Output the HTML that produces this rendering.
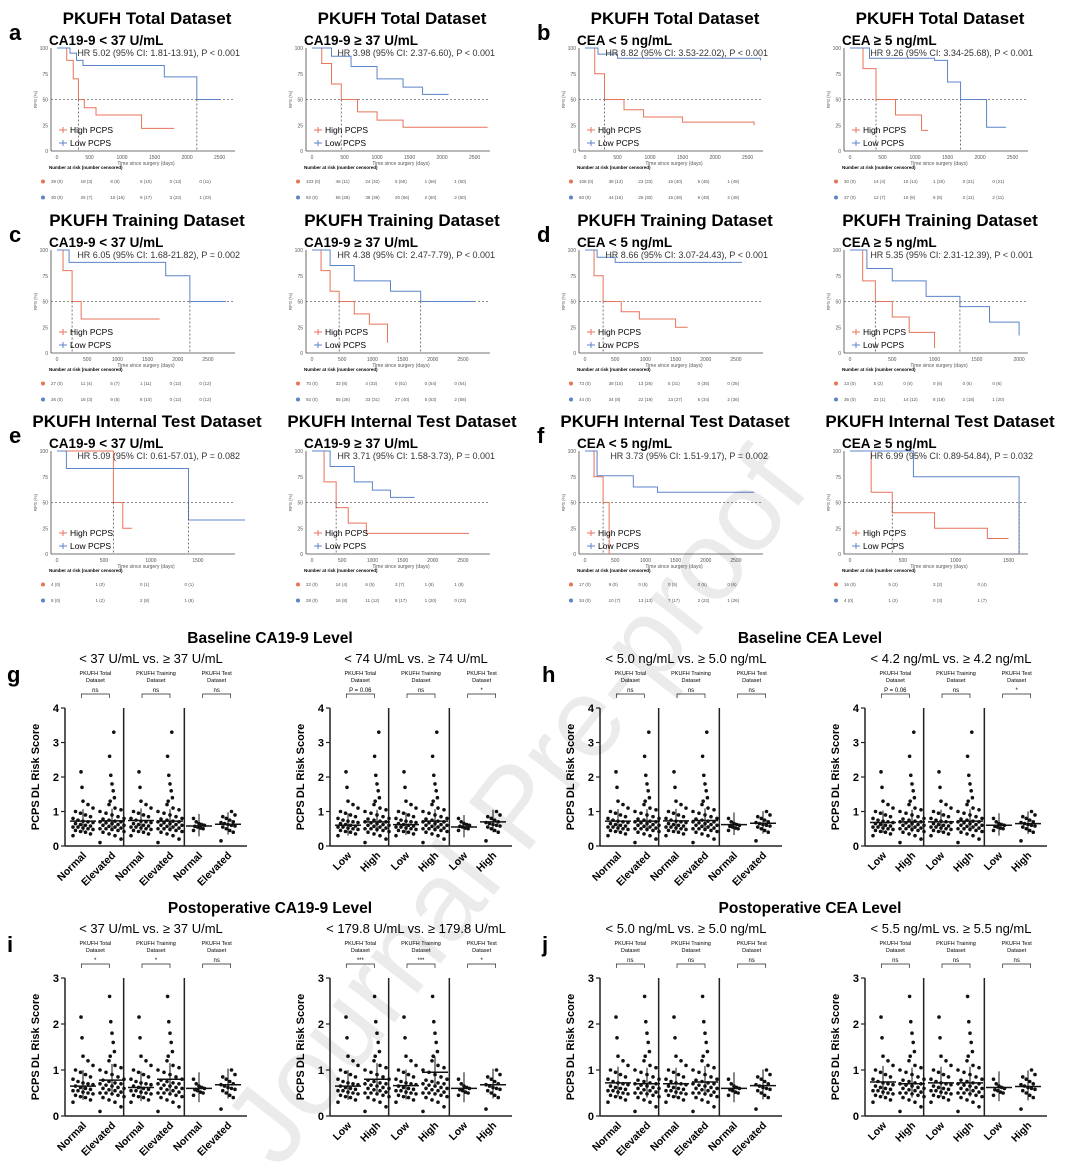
<!DOCTYPE html>
<html><head><meta charset="utf-8">
<style>
html,body{margin:0;background:#fff;overflow:hidden;width:1080px;height:1169px;}
svg{display:block;font-family:"Liberation Sans",sans-serif;}
</style></head>
<body>
<svg id="fig" width="1080" height="1169" viewBox="0 0 1080 1169" xmlns="http://www.w3.org/2000/svg" overflow="hidden"></svg>
<script>
// ---------- KM data: [time(days), survival %] ----------
const km_a1_high=[[0,100],[150,88],[250,70],[330,50],[420,42],[600,35],[1300,22],[1800,22]];
const km_a1_low=[[0,100],[200,95],[300,88],[400,83],[1650,72],[2150,50],[2500,50]];
const km_a2_high=[[0,100],[150,85],[300,65],[450,50],[700,38],[1000,30],[1400,23],[2700,23]];
const km_a2_low=[[0,100],[300,92],[600,82],[1000,70],[1400,62],[1700,55],[2100,55]];
const km_b1_high=[[0,100],[150,75],[300,50],[600,40],[900,33],[1500,28],[2600,25]];
const km_b1_low=[[0,100],[200,94],[500,90],[2700,88]];
const km_b2_high=[[0,100],[200,80],[400,50],[700,35],[1100,20],[1200,20]];
const km_b2_low=[[0,100],[300,90],[1300,88],[1500,67],[1700,50],[2100,23],[2400,23]];
const km_c1_high=[[0,100],[100,80],[250,50],[400,33],[1700,33]];
const km_c1_low=[[0,100],[200,88],[1800,75],[2200,50],[2800,50]];
const km_c2_high=[[0,100],[150,80],[300,60],[450,50],[700,38],[950,28],[1250,10]];
const km_c2_low=[[0,100],[300,85],[700,70],[1300,60],[1800,50],[2700,50]];
const km_d1_high=[[0,100],[150,75],[300,50],[600,40],[900,33],[1500,25],[1700,25]];
const km_d1_low=[[0,100],[200,93],[500,88],[2600,88]];
const km_d2_high=[[0,100],[150,70],[300,50],[500,35],[700,20],[1000,5]];
const km_d2_low=[[0,100],[200,82],[500,70],[900,55],[1300,45],[1650,30],[2000,17]];
const km_e1_high=[[0,100],[600,50],[700,25],[800,25]];
const km_e1_low=[[0,100],[100,83],[1400,33],[2000,33]];
const km_e2_high=[[0,100],[200,70],[400,45],[600,30],[900,20],[2600,20]];
const km_e2_low=[[0,100],[300,85],[700,70],[1000,62],[1300,55],[1700,55]];
const km_f1_high=[[0,100],[150,75],[300,50],[400,0]];
const km_f1_low=[[0,100],[200,76],[800,65],[1200,60],[2800,60]];
const km_f2_high=[[0,100],[200,60],[400,40],[800,25],[1300,15],[1500,15]];
const km_f2_low=[[0,100],[600,75],[1600,75],[1600,0]];
const km_xmax=[2600,2600,2600,2600, 2800,2800,2800,2000, 1800,2800,2800,1600];
const km_titles=["PKUFH Total Dataset","PKUFH Training Dataset","PKUFH Internal Test Dataset"];
const km_subs=["CA19-9 < 37 U/mL","CA19-9 \u2265 37 U/mL","CEA < 5 ng/mL","CEA \u2265 5 ng/mL"];
const km_hr=[
"HR 5.02 (95% CI: 1.81-13.91), P < 0.001","HR 3.98 (95% CI: 2.37-6.60), P < 0.001","HR 8.82 (95% CI: 3.53-22.02), P < 0.001","HR 9.26 (95% CI: 3.34-25.68), P < 0.001",
"HR 6.05 (95% CI: 1.68-21.82), P = 0.002","HR 4.38 (95% CI: 2.47-7.79), P < 0.001","HR 8.66 (95% CI: 3.07-24.43), P < 0.001","HR 5.35 (95% CI: 2.31-12.39), P < 0.001",
"HR 5.09 (95% CI: 0.61-57.01), P = 0.082","HR 3.71 (95% CI: 1.58-3.73), P = 0.001","HR 3.73 (95% CI: 1.51-9.17), P = 0.002","HR 6.99 (95% CI: 0.89-54.84), P = 0.032"];
const km_risk_high=[["39 (0)","18 (3)","8 (8)","5 (10)","0 (13)","0 (11)"],["103 (0)","46 (11)","24 (32)","5 (60)","1 (66)","1 (60)"],["108 (0)","38 (13)","23 (33)","16 (40)","5 (46)","1 (49)"],["30 (0)","14 (4)","10 (14)","1 (20)","0 (21)","0 (21)"],
["27 (0)","11 (4)","5 (7)","1 (11)","0 (12)","0 (12)"],["70 (0)","33 (8)","4 (33)","0 (51)","0 (54)","0 (54)"],["73 (0)","38 (10)","13 (26)","5 (31)","0 (35)","0 (35)"],["13 (0)","5 (2)","0 (6)","0 (6)","0 (6)","0 (6)"],
["4 (0)","1 (0)","0 (1)","0 (1)"],["22 (0)","14 (4)","6 (5)","3 (7)","1 (8)","1 (8)"],["17 (0)","9 (0)","0 (5)","0 (5)","0 (5)","0 (6)"],["16 (0)","5 (2)","3 (2)","0 (4)"]];
const km_risk_low=[["30 (0)","25 (7)","10 (16)","9 (17)","3 (22)","1 (23)"],["92 (0)","55 (29)","38 (39)","20 (56)","2 (60)","2 (60)"],["60 (0)","44 (15)","25 (30)","16 (49)","6 (49)","2 (49)"],["37 (0)","12 (7)","10 (8)","8 (8)","2 (11)","2 (11)"],
["26 (0)","16 (3)","9 (8)","8 (10)","0 (12)","0 (12)"],["92 (0)","55 (26)","33 (31)","27 (40)","5 (53)","2 (58)"],["44 (0)","34 (8)","22 (19)","13 (27)","6 (34)","2 (36)"],["36 (0)","22 (1)","14 (12)","8 (18)","2 (18)","1 (20)"],
["8 (0)","1 (2)","2 (8)","1 (8)"],["28 (0)","16 (8)","11 (12)","8 (17)","1 (20)","0 (23)"],["34 (0)","10 (7)","13 (13)","7 (17)","2 (22)","1 (26)"],["4 (0)","1 (2)","0 (3)","1 (7)"]];

// ---------- Dot plot data (PCPS_DL risk score) ----------
const dot_base1=[0.3,0.35,0.4,0.42,0.45,0.48,0.5,0.52,0.55,0.55,0.58,0.6,0.62,0.65,0.68,0.7,0.72,0.75,0.8,0.85,0.9,0.95,1.0,1.1,1.2,1.3,1.7,2.15];
const dot_base2=[0.1,0.2,0.3,0.35,0.4,0.42,0.45,0.48,0.5,0.5,0.52,0.55,0.57,0.6,0.6,0.62,0.65,0.67,0.7,0.7,0.72,0.75,0.78,0.8,0.85,0.9,0.95,1.0,1.05,1.1,1.2,1.3,1.4,1.6,1.8,2.05,2.6,3.3];
const dot_base3=[0.45,0.5,0.52,0.55,0.57,0.6,0.62,0.65,0.7,0.8];
const dot_base4=[0.15,0.4,0.45,0.5,0.55,0.58,0.6,0.62,0.65,0.68,0.7,0.75,0.8,0.85,0.9,1.0];
const dot_means=[[0.72,0.73,0.74,0.72,0.58,0.63],[0.6,0.7,0.62,0.72,0.55,0.7],[0.72,0.72,0.73,0.74,0.62,0.66],[0.68,0.7,0.7,0.72,0.6,0.65],
[0.65,0.78,0.62,0.8,0.6,0.68],[0.65,0.8,0.66,0.95,0.6,0.68],[0.72,0.7,0.7,0.74,0.6,0.66],[0.74,0.7,0.72,0.72,0.62,0.64]];
const dot_sig=[["ns","ns","ns"],["P = 0.06","ns","*"],["ns","ns","ns"],["P = 0.06","ns","*"],["*","*","ns"],["***","***","*"],["ns","ns","ns"],["ns","ns","ns"]];
const dot_cats=[["Normal","Elevated"],["Low","High"],["Normal","Elevated"],["Low","High"],["Normal","Elevated"],["Low","High"],["Normal","Elevated"],["Low","High"]];
const dot_ymax=[4,4,4,4,3,3,3,3];
const dot_groups=[dot_base1,dot_base2,dot_base1,dot_base2,dot_base3,dot_base4];

const NS="http://www.w3.org/2000/svg";
const svg=document.getElementById('fig');
function el(tag,attrs,parent,text){const e=document.createElementNS(NS,tag);for(const k in attrs)e.setAttribute(k,attrs[k]);if(text!==undefined)e.textContent=text;(parent||svg).appendChild(e);return e;}
const RED="#e8735a",BLUE="#5b84c9";

// ---------- KM panels ----------
const kmData=[[km_a1_high,km_a1_low],[km_a2_high,km_a2_low],[km_b1_high,km_b1_low],[km_b2_high,km_b2_low],
[km_c1_high,km_c1_low],[km_c2_high,km_c2_low],[km_d1_high,km_d1_low],[km_d2_high,km_d2_low],
[km_e1_high,km_e1_low],[km_e2_high,km_e2_low],[km_f1_high,km_f1_low],[km_f2_high,km_f2_low]];
const colX=[57,312,585,850], rowY=[0,202,403];
const letters=[["a",null,"b",null],["c",null,"d",null],["e",null,"f",null]];
kmData.forEach((d,i)=>{
  const r=Math.floor(i/4),c=i%4;
  const g=el('g',{},svg);
  
  
  const L=colX[c],T=48+rowY[r],W=178,H=103,B=T+H;
  const xs=t=>L+t/km_xmax[i]*W*0.95, ys=s=>B-s/100*H;
  const tt=el('text',{x:L+90,y:24+rowY[r],'font-size':17,'font-weight':'bold','text-anchor':'middle'},g,km_titles[r]);
  
  const st=el('text',{x:L-8,y:45+rowY[r],'font-size':13.5,'font-weight':'bold'},g,km_subs[c]);
  
  if(letters[r][c]){const lt=el('text',{x:L-48,y:40+rowY[r],'font-size':22,'font-weight':'bold'},g,letters[r][c]);}
  el('line',{x1:L-6,y1:T,x2:L-6,y2:B,stroke:'#444','stroke-width':0.8},g);
  el('line',{x1:L-6,y1:B,x2:L+W,y2:B,stroke:'#444','stroke-width':0.8},g);
  [0,25,50,75,100].forEach(v=>{el('text',{x:L-9,y:ys(v)+2,'font-size':5,'text-anchor':'end',fill:'#555'},g,v);});
  el('text',{x:L-20,y:T+H/2,'font-size':4.5,fill:'#555',transform:`rotate(-90 ${L-20} ${T+H/2})`,'text-anchor':'middle'},g,'RFS (%)');
  for(let t=0;t<=km_xmax[i];t+=500){el('text',{x:xs(t),y:B+8,'font-size':5,'text-anchor':'middle',fill:'#555'},g,t);}
  el('text',{x:L+W/2,y:B+14,'font-size':5,'text-anchor':'middle',fill:'#555'},g,'Time since surgery (days)');
  el('line',{x1:L-6,y1:ys(50),x2:L+W,y2:ys(50),stroke:'#666','stroke-width':0.8,'stroke-dasharray':'2,2'},g);
  d.forEach((s,k)=>{
    let p=`M${xs(s[0][0])},${ys(s[0][1])}`;
    for(let j=1;j<s.length;j++){p+=` H${xs(s[j][0])} V${ys(s[j][1])}`;}
    const path=el('path',{d:p,fill:'none',stroke:k?BLUE:RED,'stroke-width':1},g);
    
    
    const cross=s.find(q=>q[1]<=50);
    if(cross){el('line',{x1:xs(cross[0]),y1:ys(50),x2:xs(cross[0]),y2:B,stroke:'#555','stroke-width':0.8,'stroke-dasharray':'2,2'},g);}
  });
  const hr=el('text',{x:L+W+5,y:T+8,'font-size':9,'text-anchor':'end',fill:'#333'},g,km_hr[i]);
  
  el('line',{x1:L+2,y1:B-21,x2:L+10,y2:B-21,stroke:RED},g);el('line',{x1:L+6,y1:B-24,x2:L+6,y2:B-18,stroke:RED},g);
  el('text',{x:L+13,y:B-18,'font-size':8.5},g,'High PCPS');
  el('line',{x1:L+2,y1:B-8,x2:L+10,y2:B-8,stroke:BLUE},g);el('line',{x1:L+6,y1:B-11,x2:L+6,y2:B-5,stroke:BLUE},g);
  el('text',{x:L+13,y:B-5,'font-size':8.5},g,'Low PCPS');
  el('text',{x:L-8,y:B+18,'font-size':4.5,'font-weight':'bold'},g,'Number at risk (number censored)');
  [[km_risk_high[i],RED],[km_risk_low[i],BLUE]].forEach((rw,k)=>{
    const yy=B+32+k*16;
    el('circle',{cx:L-14,cy:yy-1.5,r:2,fill:rw[1]},g);
    rw[0].forEach((txt,j)=>{el('text',{x:L-6+j*(W/rw[0].length),y:yy,'font-size':4.5,fill:'#555'},g,txt);});
  });
});

// ---------- Dot plots ----------
const dotTitles=[["Baseline CA19-9 Level",270],["Baseline CEA Level",810],["Postoperative CA19-9 Level",270],["Postoperative CEA Level",810]];
const dotSubs=["< 37 U/mL vs. \u2265 37 U/mL","< 74 U/mL vs. \u2265 74 U/mL","< 5.0 ng/mL vs. \u2265 5.0 ng/mL","< 4.2 ng/mL vs. \u2265 4.2 ng/mL",
"< 37 U/mL vs. \u2265 37 U/mL","< 179.8 U/mL vs. \u2265 179.8 U/mL","< 5.0 ng/mL vs. \u2265 5.0 ng/mL","< 5.5 ng/mL vs. \u2265 5.5 ng/mL"];
const dcolX=[65,330,600,865];
const secNames=[["PKUFH Total","Dataset"],["PKUFH Training","Dataset"],["PKUFH Test","Dataset"]];
dotTitles.forEach((t,k)=>{const e=el('text',{x:t[1],y:643+Math.floor(k/2)*270,'font-size':15.5,'font-weight':'bold','text-anchor':'middle'},svg,t[0]);});
for(let i=0;i<8;i++){
  const r=Math.floor(i/4),c=i%4,off=r*270;
  const g=el('g',{},svg);
  
  
  const L=dcolX[c],W=182,Bt=846+off,H=138,Tp=Bt-H;
  const ys=v=>Bt-v/dot_ymax[i]*H;
  el('text',{x:L+86,y:663+off,'font-size':13,'text-anchor':'middle'},g,dotSubs[i]);
  if(c===0||c===2){const lt=el('text',{x:L-58,y:682+off,'font-size':22,'font-weight':'bold'},g,["g","h","i","j"][r*2+c/2]);}
  el('line',{x1:L,y1:Tp,x2:L,y2:Bt,stroke:'#222','stroke-width':1.5},g);
  el('line',{x1:L,y1:Bt,x2:L+W,y2:Bt,stroke:'#222','stroke-width':1.5},g);
  for(let v=0;v<=dot_ymax[i];v++){el('line',{x1:L-4,y1:ys(v),x2:L,y2:ys(v),stroke:'#222','stroke-width':1.2},g);el('text',{x:L-6,y:ys(v)+4,'font-size':11,'font-weight':'bold','text-anchor':'end'},g,v);}
  el('text',{x:L-26,y:Tp+H/2,'font-size':11,'font-weight':'bold','text-anchor':'middle',transform:`rotate(-90 ${L-26} ${Tp+H/2})`},g,'PCPS\u2009DL Risk Score');
  [1,2].forEach(s=>el('line',{x1:L+s*W/3-2,y1:Tp,x2:L+s*W/3-2,y2:Bt,stroke:'#222','stroke-width':1.5},g));
  for(let s=0;s<3;s++){
    const cx=L+s*W/3+W/6;
    el('text',{x:cx,y:Tp-33,'font-size':5.5,'text-anchor':'middle'},g,secNames[s][0]);
    el('text',{x:cx,y:Tp-26,'font-size':5.5,'text-anchor':'middle'},g,secNames[s][1]);
    el('path',{d:`M${cx-14},${Tp-10} V${Tp-14} H${cx+14} V${Tp-10}`,fill:'none',stroke:'#222','stroke-width':0.7},g);
    el('text',{x:cx,y:Tp-16,'font-size':6,'text-anchor':'middle'},g,dot_sig[i][s]);
  }
  for(let j=0;j<6;j++){
    const gx=L+18+j*29;
    const vals=dot_groups[j].filter(v=>v<=dot_ymax[i]);
    vals.forEach((v,n)=>{
      const spread=Math.min(12,3+vals.length*0.25);
      const dx=((n*7)%9-4)/4*spread*(v<1.3?1:0.2);
      const dot=el('circle',{cx:gx+dx,cy:ys(v),r:1.8,fill:'#111'},g);
      
      
    });
    const m=dot_means[i][j];
    el('line',{x1:gx-13,y1:ys(m),x2:gx+13,y2:ys(m),stroke:'#111','stroke-width':1.5},g);
    el('line',{x1:gx,y1:ys(m-0.3),x2:gx,y2:ys(m+0.35),stroke:'#111','stroke-width':1},g);
    el('text',{x:gx+4,y:Bt+10,'font-size':10.5,'font-weight':'bold','text-anchor':'end',transform:`rotate(-45 ${gx+4} ${Bt+10})`},g,dot_cats[i][j%2]);
  }
}
const wm=el('text',{x:545,y:830,'font-size':112,fill:'rgba(0,0,0,0.08)','text-anchor':'middle',transform:'rotate(-52 545 830)'},svg,'Journal Pre-proof');


</script>
</body></html>
